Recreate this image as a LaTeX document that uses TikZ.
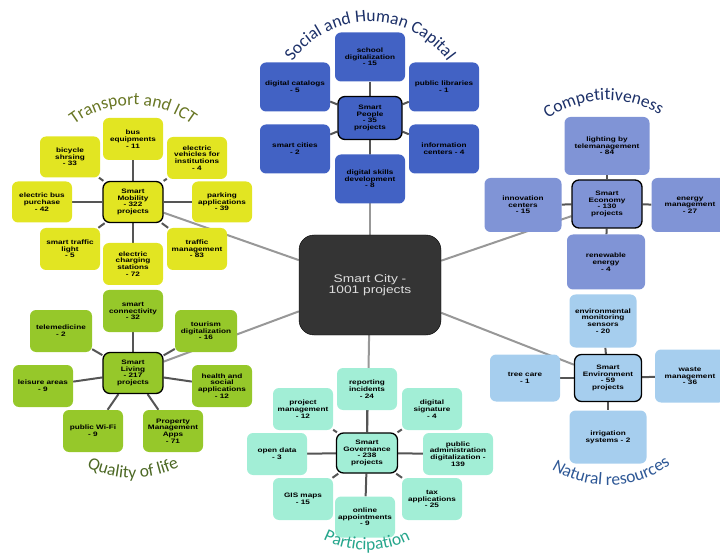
\documentclass[tikz,border=0pt]{standalone}
\usepackage{fontspec}
\setmainfont{Liberation Sans}
\newfontfamily\titlefont{Carlito}
\newfontfamily\boxfont[FakeStretch=1.28]{Liberation Sans}
\newfontfamily\cityfont[FakeStretch=1.25]{Liberation Sans}
\usetikzlibrary{backgrounds,decorations.text}

\definecolor{peopleblue}{RGB}{66,98,196}
\definecolor{mobyellow}{RGB}{226,229,34}
\definecolor{ecoblue}{RGB}{128,148,214}
\definecolor{livgreen}{RGB}{150,200,42}
\definecolor{govmint}{RGB}{162,238,214}
\definecolor{envblue}{RGB}{166,206,238}
\definecolor{citygray}{RGB}{52,52,52}
\definecolor{citytext}{RGB}{222,222,222}
\definecolor{edgegray}{RGB}{85,85,85}
\definecolor{maingray}{RGB}{152,152,152}
\definecolor{navytext}{RGB}{28,48,104}
\definecolor{olivetext}{RGB}{104,118,36}
\definecolor{greentext}{RGB}{76,104,36}
\definecolor{tealtext}{RGB}{38,166,140}
\definecolor{steeltext}{RGB}{46,88,150}

\begin{document}
\begin{tikzpicture}[x=1pt, y=-1pt]

\tikzstyle{leaf}=[rectangle, rounded corners=6pt, align=center, inner sep=1pt, font=\boxfont\fontsize{6.4}{6.7}\selectfont\bfseries]
\tikzstyle{hub}=[leaf, draw=black, line width=1.3pt, rounded corners=7pt]
\tikzstyle{city}=[rectangle, draw=black, fill=citygray, rounded corners=15pt, minimum width=142pt, minimum height=100pt, align=center, text=citytext, font=\cityfont\fontsize{11}{11.5}\selectfont]
\tikzstyle{color1}=[fill=peopleblue]
\tikzstyle{color2}=[fill=mobyellow]
\tikzstyle{color3}=[fill=ecoblue]
\tikzstyle{color4}=[fill=livgreen]
\tikzstyle{color5}=[fill=govmint]
\tikzstyle{color6}=[fill=envblue]
\tikzstyle{edge1}=[draw=edgegray, line width=2pt]
\tikzstyle{edge2}=[draw=maingray, line width=2pt]
\tikzstyle{title}=[decorate, decoration={text along path, text align=center}]

\useasboundingbox (0,0) rectangle (720,553);
\clip (0,0) rectangle (720,553);

\node[city] (city) at (370,285) {Smart City -\\1001 projects};

% Social and Human Capital
\node[hub, color1, minimum width=64pt, minimum height=43pt] (people) at (370,118) {Smart\\People\\- 35\\projects};
\node[leaf, color1, minimum width=70pt, minimum height=49pt] (people1) at (370,57) {school\\digitalization\\- 15};
\node[leaf, color1, minimum width=70pt, minimum height=49pt] (people2) at (295,87) {digital catalogs\\- 5};
\node[leaf, color1, minimum width=70pt, minimum height=49pt] (people3) at (444,87) {public libraries\\- 1};
\node[leaf, color1, minimum width=70pt, minimum height=49pt] (people4) at (295,149) {smart cities\\- 2};
\node[leaf, color1, minimum width=70pt, minimum height=49pt] (people5) at (444,149) {information\\centers - 4};
\node[leaf, color1, minimum width=70pt, minimum height=49pt] (people6) at (370,179) {digital skills\\development\\- 8};

% Transport and ICT
\node[hub, color2, minimum width=60pt, minimum height=41pt] (mobility) at (133,202) {Smart\\Mobility\\- 322\\projects};
\node[leaf, color2, minimum width=60pt, minimum height=42pt] (mobility1) at (133,139) {bus\\equipments\\- 11};
\node[leaf, color2, minimum width=60pt, minimum height=41pt] (mobility2) at (70,157) {bicycle\\shrsing\\- 33};
\node[leaf, color2, minimum width=60pt, minimum height=42pt] (mobility3) at (197,158) {electric\\vehicles for\\institutions\\- 4};
\node[leaf, color2, minimum width=60pt, minimum height=41pt] (mobility4) at (42,202) {electric bus\\purchase\\- 42};
\node[leaf, color2, minimum width=60pt, minimum height=41pt] (mobility5) at (222,202) {parking\\applications\\- 39};
\node[leaf, color2, minimum width=60pt, minimum height=42pt] (mobility6) at (70,249) {smart traffic\\light\\- 5};
\node[leaf, color2, minimum width=60pt, minimum height=42pt] (mobility7) at (133,264) {electric\\charging\\stations\\- 72};
\node[leaf, color2, minimum width=60pt, minimum height=42pt] (mobility8) at (197,249) {traffic\\management\\- 83};

% Competitiveness
\node[hub, color3, minimum width=70pt, minimum height=48pt] (economy) at (607,204) {Smart\\Economy\\- 130\\projects};
\node[leaf, color3, minimum width=85pt, minimum height=58pt] (economy1) at (607,146) {lighting by\\telemanagement\\- 84};
\node[leaf, color3, minimum width=77pt, minimum height=54pt] (economy2) at (523,205) {innovation\\centers\\- 15};
\node[leaf, color3, minimum width=77pt, minimum height=54pt] (economy3) at (690,205) {energy\\management\\- 27};
\node[leaf, color3, minimum width=78pt, minimum height=55pt] (economy4) at (606,262) {renewable\\energy\\- 4};

% Quality of life
\node[hub, color4, minimum width=60pt, minimum height=41pt] (living) at (133,373) {Smart\\Living\\- 217\\projects};
\node[leaf, color4, minimum width=60pt, minimum height=42pt] (living1) at (133,311) {smart\\connectivity\\- 32};
\node[leaf, color4, minimum width=62pt, minimum height=42pt] (living2) at (61,331) {telemedicine\\- 2};
\node[leaf, color4, minimum width=62pt, minimum height=42pt] (living3) at (206,331) {tourism\\digitalization\\- 16};
\node[leaf, color4, minimum width=60pt, minimum height=42pt] (living4) at (43,386) {leisure areas\\- 9};
\node[leaf, color4, minimum width=60pt, minimum height=42pt] (living5) at (222,386) {health and\\social\\applications\\- 12};
\node[leaf, color4, minimum width=60pt, minimum height=42pt] (living6) at (93,431) {public Wi-Fi\\- 9};
\node[leaf, color4, minimum width=60pt, minimum height=42pt] (living7) at (173,431) {Property\\Management\\Apps\\- 71};

% Participation
\node[hub, color5, minimum width=61pt, minimum height=40pt] (governance) at (367,453) {Smart\\Governance\\- 238\\projects};
\node[leaf, color5, minimum width=60pt, minimum height=42pt] (governance1) at (367,389) {reporting\\incidents\\- 24};
\node[leaf, color5, minimum width=60pt, minimum height=42pt] (governance2) at (303,409) {project\\management\\- 12};
\node[leaf, color5, minimum width=60pt, minimum height=42pt] (governance3) at (432,409) {digital\\signature\\- 4};
\node[leaf, color5, minimum width=60pt, minimum height=42pt] (governance4) at (277,454) {open data\\- 3};
\node[leaf, color5, minimum width=70pt, minimum height=42pt] (governance5) at (458,454) {public\\administration\\digitalization -\\139};
\node[leaf, color5, minimum width=60pt, minimum height=42pt] (governance6) at (303,499) {GIS maps\\- 15};
\node[leaf, color5, minimum width=60pt, minimum height=42pt] (governance7) at (432,499) {tax\\applications\\- 25};
\node[leaf, color5, minimum width=60pt, minimum height=41pt] (governance8) at (365,517) {online\\appointments\\- 9};

% Natural resources
\node[hub, color6, minimum width=67pt, minimum height=47pt] (environment) at (608,378) {Smart\\Environment\\- 59\\projects};
\node[leaf, color6, minimum width=67pt, minimum height=53pt] (environment1) at (603,321) {environmental\\monitoring\\sensors\\- 20};
\node[leaf, color6, minimum width=70pt, minimum height=47pt] (environment2) at (525,378) {tree care\\- 1};
\node[leaf, color6, minimum width=70pt, minimum height=53pt] (environment3) at (690,376) {waste\\management\\- 36};
\node[leaf, color6, minimum width=77pt, minimum height=53pt] (environment4) at (608,437) {irrigation\\systems - 2};

% curved titles
\path[title, decoration={text={|\titlefont\fontsize{17.5}{20}\selectfont\color{navytext}|Social and Human Capital}}] ([shift={(people.center)}]-160:96) arc[start angle=-160, end angle=-20, radius=96];
\path[title, decoration={text={|\titlefont\fontsize{17.5}{20}\selectfont\color{olivetext}|Transport and ICT}}] ([shift={(mobility.center)}]-160:97) arc[start angle=-160, end angle=-20, radius=97];
\path[title, decoration={text={|\titlefont\fontsize{17.5}{20}\selectfont\color{navytext}|Competitiveness}}] ([shift={(economy.center)}]-162:104) arc[start angle=-162, end angle=-22, radius=104];
\path[title, decoration={text={|\titlefont\fontsize{17.5}{20}\selectfont\color{greentext}|Quality of life}}] ([shift={(living.center)}]160:105) arc[start angle=160, end angle=20, radius=105];
\path[title, decoration={text={|\titlefont\fontsize{17.5}{20}\selectfont\color{tealtext}|Participation}}] ([shift={(governance.center)}]160:97) arc[start angle=160, end angle=20, radius=97];
\path[title, decoration={text={|\titlefont\fontsize{17.5}{20}\selectfont\color{steeltext}|Natural resources}}] ([shift={(environment.center)}]158:107) arc[start angle=158, end angle=18, radius=107];

\begin{pgfonlayer}{background}
\draw[edge2] (city) -- (people);
\draw[edge2] (city) -- (mobility);
\draw[edge2] (city) -- (economy);
\draw[edge2] (city) -- (living);
\draw[edge2] (city) -- (governance);
\draw[edge2] (city) -- (environment);

\draw[edge1] (people) -- (people1);
\draw[edge1] (people) -- (people2);
\draw[edge1] (people) -- (people3);
\draw[edge1] (people) -- (people4);
\draw[edge1] (people) -- (people5);
\draw[edge1] (people) -- (people6);

\draw[edge1] (mobility) -- (mobility1);
\draw[edge1] (mobility) -- (mobility2);
\draw[edge1] (mobility) -- (mobility3);
\draw[edge1] (mobility) -- (mobility4);
\draw[edge1] (mobility) -- (mobility5);
\draw[edge1] (mobility) -- (mobility6);
\draw[edge1] (mobility) -- (mobility7);
\draw[edge1] (mobility) -- (mobility8);

\draw[edge1] (economy) -- (economy1);
\draw[edge1] (economy) -- (economy2);
\draw[edge1] (economy) -- (economy3);
\draw[edge1] (economy) -- (economy4);

\draw[edge1] (living) -- (living1);
\draw[edge1] (living) -- (living2);
\draw[edge1] (living) -- (living3);
\draw[edge1] (living) -- (living4);
\draw[edge1] (living) -- (living5);
\draw[edge1] (living) -- (living6);
\draw[edge1] (living) -- (living7);

\draw[edge1] (governance) -- (governance1);
\draw[edge1] (governance) -- (governance2);
\draw[edge1] (governance) -- (governance3);
\draw[edge1] (governance) -- (governance4);
\draw[edge1] (governance) -- (governance5);
\draw[edge1] (governance) -- (governance6);
\draw[edge1] (governance) -- (governance7);
\draw[edge1] (governance) -- (governance8);

\draw[edge1] (environment) -- (environment1);
\draw[edge1] (environment) -- (environment2);
\draw[edge1] (environment) -- (environment3);
\draw[edge1] (environment) -- (environment4);
\end{pgfonlayer}

\end{tikzpicture}
\end{document}
